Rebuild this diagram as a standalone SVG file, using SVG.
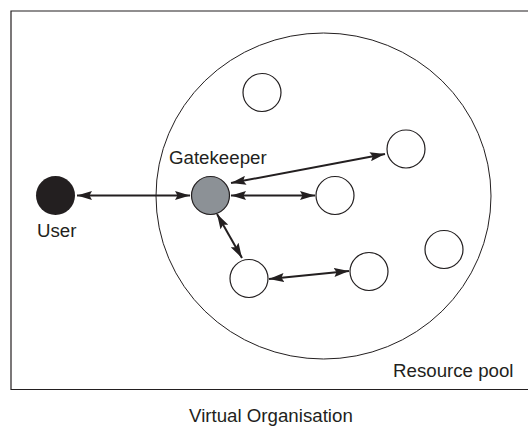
<svg xmlns="http://www.w3.org/2000/svg" width="528" height="429" viewBox="0 0 528 429">
<style>
.frame{fill:none;stroke:#231f20;stroke-width:1.2}
.pool{fill:none;stroke:#231f20;stroke-width:1}
.node{fill:#fff;stroke:#231f20;stroke-width:1.2}
.conn{stroke:#231f20;stroke-width:2;fill:none;marker-start:url(#ah);marker-end:url(#ah)}
text{font-family:"Liberation Sans",Arial,sans-serif;font-size:18.7px;fill:#231f20}
</style>
<defs>
<marker id="ah" markerUnits="userSpaceOnUse" viewBox="0 0 15 9" refX="15" refY="4.5" markerWidth="15" markerHeight="9" orient="auto-start-reverse">
<path d="M0,0 L15,4.5 L0,9 L2.5,4.5 z" fill="#231f20"/>
</marker>
</defs>
<rect fill="#fff" x="0" y="0" width="528" height="429"/>
<g id="virtual-organisation">
<path class="frame" d="M530,11 H11 V389.5 H530"/>
<text x="189" y="422">Virtual Organisation</text>
</g>
<g id="resource-pool">
<ellipse class="pool" cx="323.5" cy="196" rx="167.5" ry="163"/>
<text x="393" y="376.5">Resource pool</text>
</g>
<g id="user">
<circle cx="55.5" cy="195.5" r="19.5" fill="#231f20"/>
<text x="37" y="236.5">User</text>
</g>
<g id="gatekeeper">
<circle cx="210.5" cy="195.5" r="19" fill="#8c9196" stroke="#231f20" stroke-width="1.2"/>
<text x="169" y="163.5">Gatekeeper</text>
</g>
<g id="r1"><circle class="node" cx="262" cy="92.5" r="19"/></g>
<g id="r2"><circle class="node" cx="406" cy="149" r="19"/></g>
<g id="r3"><circle class="node" cx="335" cy="195.5" r="19"/></g>
<g id="r4"><circle class="node" cx="444" cy="249.5" r="19"/></g>
<g id="r5"><circle class="node" cx="249" cy="278.5" r="19"/></g>
<g id="r6"><circle class="node" cx="369" cy="271.5" r="19"/></g>
<g id="connectors">
<line class="conn" x1="77" y1="195.5" x2="190" y2="195.5"/>
<line class="conn" x1="231" y1="195.5" x2="315" y2="195.5"/>
<line class="conn" x1="231" y1="183" x2="385" y2="154"/>
<line class="conn" x1="217" y1="214" x2="242" y2="258"/>
<line class="conn" x1="269" y1="279" x2="349" y2="271"/>
</g>
</svg>
